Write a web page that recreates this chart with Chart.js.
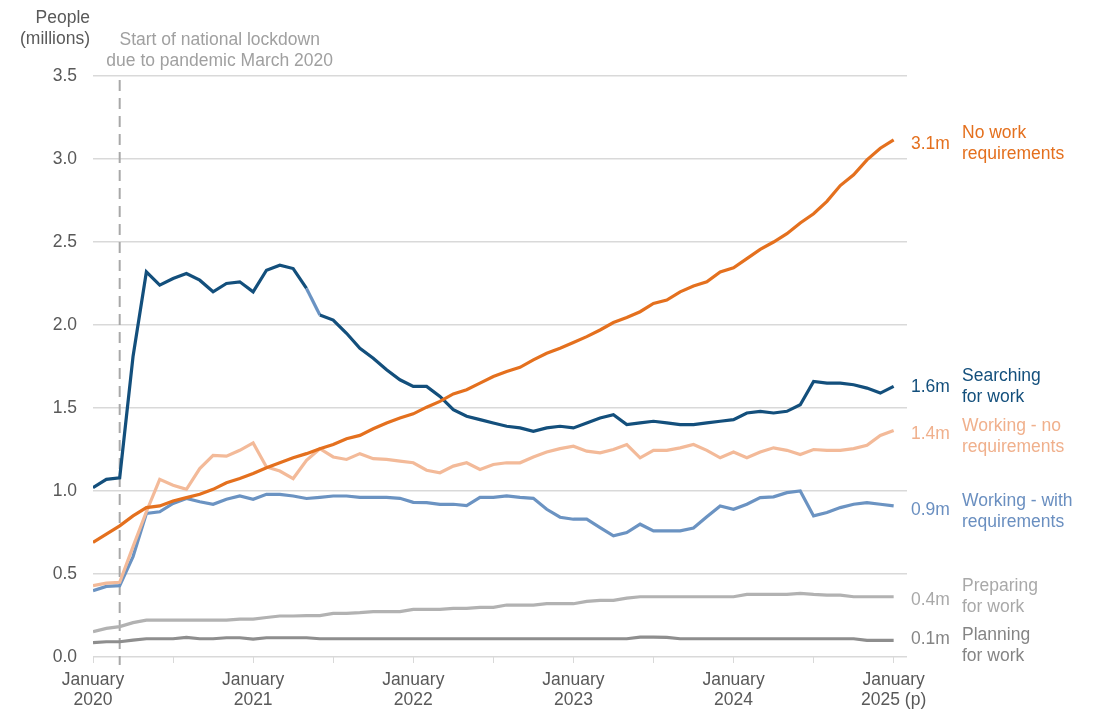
<!DOCTYPE html>
<html>
<head>
<meta charset="utf-8">
<script src="https://cdn.jsdelivr.net/npm/chart.js"></script>
<style>
    body { margin: 0; background: #fff; }
    #wrap { width: 1094px; height: 718px; position: relative; }
</style>
</head>
<body>
<div id="wrap"><canvas id="chart"></canvas></div>
<script>
// Monthly values, January 2020 (index 0) to January 2025 (index 60), millions of people
const searching = [
    1.02, 1.07, 1.08, 1.81, 2.32, 2.24, 2.28, 2.31, 2.27, 2.20, 2.25, 2.26,
    2.20, 2.33, 2.36, 2.34, 2.22, 2.06, 2.03, 1.95, 1.86, 1.80, 1.73, 1.67,
    1.63, 1.63, 1.57, 1.49, 1.45, 1.43, 1.41, 1.39, 1.38, 1.36, 1.38, 1.39,
    1.38, 1.41, 1.44, 1.46, 1.40, 1.41, 1.42, 1.41, 1.40, 1.40, 1.41, 1.42,
    1.43, 1.47, 1.48, 1.47, 1.48, 1.52, 1.66, 1.65, 1.65, 1.64, 1.62, 1.59,
    1.63
];
const noWorkReq = [
    0.69, 0.74, 0.79, 0.85, 0.90, 0.91, 0.94, 0.96, 0.98, 1.01, 1.05, 1.075,
    1.105, 1.14, 1.17, 1.20, 1.225, 1.255, 1.28, 1.315, 1.335, 1.375, 1.41, 1.44,
    1.465, 1.505, 1.54, 1.585, 1.61, 1.65, 1.69, 1.72, 1.745, 1.79, 1.83, 1.86,
    1.895, 1.93, 1.97, 2.015, 2.045, 2.08, 2.13, 2.15, 2.20, 2.235, 2.26, 2.32,
    2.345, 2.40, 2.455, 2.50, 2.55, 2.615, 2.67, 2.745, 2.84, 2.905, 2.995, 3.065,
    3.115
];
const workingNoReq = [
    0.43, 0.445, 0.45, 0.665, 0.875, 1.07, 1.035, 1.01, 1.135, 1.215, 1.21, 1.245,
    1.29, 1.145, 1.12, 1.075, 1.185, 1.255, 1.205, 1.19, 1.225, 1.195, 1.19, 1.18,
    1.17, 1.125, 1.11, 1.15, 1.17, 1.13, 1.16, 1.17, 1.17, 1.205, 1.235, 1.255,
    1.27, 1.24, 1.23, 1.25, 1.28, 1.20, 1.245, 1.245, 1.26, 1.28, 1.245, 1.20,
    1.235, 1.20, 1.235, 1.26, 1.245, 1.22, 1.25, 1.245, 1.245, 1.255, 1.275, 1.335,
    1.365
];
const workingWithReq = [
    0.40, 0.425, 0.43, 0.605, 0.865, 0.875, 0.925, 0.955, 0.935, 0.92, 0.95, 0.97,
    0.95, 0.98, 0.98, 0.97, 0.955, 0.962, 0.97, 0.97, 0.962, 0.962, 0.962, 0.956,
    0.932, 0.93, 0.92, 0.92, 0.912, 0.962, 0.962, 0.97, 0.962, 0.956, 0.89, 0.842,
    0.83, 0.83, 0.78, 0.73, 0.75, 0.80, 0.76, 0.76, 0.76, 0.777, 0.845, 0.91,
    0.89, 0.92, 0.96, 0.965, 0.99, 1.0, 0.85, 0.87, 0.90, 0.92, 0.93, 0.92,
    0.91
];
const preparing = [
    0.153, 0.172, 0.183, 0.207, 0.222, 0.222, 0.222, 0.222, 0.222, 0.222, 0.222, 0.228,
    0.228, 0.238, 0.247, 0.247, 0.249, 0.249, 0.263, 0.263, 0.267, 0.273, 0.273, 0.273,
    0.287, 0.287, 0.287, 0.293, 0.293, 0.299, 0.299, 0.313, 0.313, 0.313, 0.321, 0.321,
    0.321, 0.335, 0.341, 0.341, 0.355, 0.363, 0.363, 0.363, 0.363, 0.363, 0.363, 0.363,
    0.363, 0.377, 0.377, 0.377, 0.377, 0.383, 0.377, 0.373, 0.373, 0.363, 0.363, 0.363,
    0.363
];
const planning = [
    0.086, 0.092, 0.092, 0.102, 0.11, 0.11, 0.11, 0.118, 0.11, 0.11, 0.116, 0.116,
    0.108, 0.116, 0.116, 0.116, 0.116, 0.11, 0.11, 0.11, 0.11, 0.11, 0.11, 0.11,
    0.11, 0.11, 0.11, 0.11, 0.11, 0.11, 0.11, 0.11, 0.11, 0.11, 0.11, 0.11,
    0.11, 0.11, 0.11, 0.11, 0.11, 0.12, 0.12, 0.118, 0.11, 0.11, 0.11, 0.11,
    0.11, 0.11, 0.11, 0.11, 0.11, 0.11, 0.11, 0.11, 0.11, 0.11, 0.10, 0.10,
    0.10
];

// x tick labels, one per January (every 12 months)
const xTickLabels = [
    ['January', '2020'], ['January', '2021'], ['January', '2022'],
    ['January', '2023'], ['January', '2024'], ['January', '2025 (p)']
];
const yTicks = [0, 0.5, 1.0, 1.5, 2.0, 2.5, 3.0, 3.5];

// end labels: value text and two-line name
const endValues = ['3.1m', '1.6m', '1.4m', '0.9m', '0.4m', '0.1m'];
const endNames = [
    ['No work', 'requirements'],
    ['Searching', 'for work'],
    ['Working - no', 'requirements'],
    ['Working - with', 'requirements'],
    ['Preparing', 'for work'],
    ['Planning', 'for work']
];

const lockdownMonth = 2; // March 2020
const lockdownText = ['Start of national lockdown', 'due to pandemic March 2020'];
const yTitle = ['People', '(millions)'];

const FONT = '"Liberation Sans", Arial, sans-serif';
const FSIZE = 17.5;
const GRID = '#d9d9d9';
const TEXT = '#595959';

const colours = {
    noWork: '#e4701e',
    searching: '#134f7c',
    searchingLight: '#6a93c3',
    workingNo: '#f3ba99',
    workingWith: '#6b93c2',
    preparing: '#b2b2b2',
    planning: '#8e8e8e'
};
const labelColours = [colours.noWork, colours.searching, '#f0b08c', '#6a8fc0', '#a9a9a9', '#858585'];
// small vertical nudges for the label blocks (value, name) so they don't collide
const valueNudge = [4, 1, 4, 4, 3, -1];
const nameNudge = [4, 0, 6, 6, 0, 5];

function toPoints(arr) {
    return arr.map((v, i) => ({ x: i, y: v }));
}

function line(label, data, color, order) {
    return {
        label: label,
        data: toPoints(data),
        borderColor: color,
        borderWidth: 3.2,
        pointRadius: 0,
        tension: 0,
        fill: false,
        order: order
    };
}

const datasets = [
    line('No work requirements', noWorkReq, colours.noWork, 1),
    line('Searching for work', searching, colours.searching, 2),
    line('Working - no requirements', workingNoReq, colours.workingNo, 3),
    line('Working - with requirements', workingWithReq, colours.workingWith, 4),
    line('Preparing for work', preparing, colours.preparing, 5),
    line('Planning for work', planning, colours.planning, 6)
];
// lighter stretch on the searching line, mid 2021
datasets[1].segment = {
    borderColor: ctx => ctx.p0DataIndex === 16 ? colours.searchingLight : undefined
};

const overlay = {
    id: 'overlay',
    beforeDatasetsDraw(chart) {
        const { ctx, chartArea, scales } = chart;
        const x = scales.x.getPixelForValue(lockdownMonth);
        ctx.save();
        ctx.strokeStyle = '#a8a8a8';
        ctx.lineWidth = 2;
        ctx.setLineDash([11, 7]);
        ctx.beginPath();
        ctx.moveTo(x, chartArea.top + 4);
        ctx.lineTo(x, chartArea.bottom + 8);
        ctx.stroke();
        ctx.restore();
    },
    afterDraw(chart) {
        const { ctx, chartArea, scales } = chart;
        ctx.save();
        ctx.font = FSIZE + 'px ' + FONT;
        ctx.textBaseline = 'middle';

        // y axis title
        ctx.fillStyle = TEXT;
        ctx.textAlign = 'right';
        ctx.fillText(yTitle[0], 90, 18);
        ctx.fillText(yTitle[1], 90, 39);

        // lockdown annotation
        const lx = scales.x.getPixelForValue(lockdownMonth);
        ctx.fillStyle = '#a0a0a0';
        ctx.textAlign = 'center';
        ctx.fillText(lockdownText[0], lx + 100, 40);
        ctx.fillText(lockdownText[1], lx + 100, 61);

        // end-of-line labels
        ctx.textAlign = 'left';
        chart.data.datasets.forEach((ds, i) => {
            const last = ds.data[ds.data.length - 1];
            const y = scales.y.getPixelForValue(last.y);
            ctx.fillStyle = labelColours[i];
            ctx.fillText(endValues[i], chartArea.right + 4, y + valueNudge[i]);
            const ny = y + nameNudge[i];
            ctx.fillText(endNames[i][0], chartArea.right + 55, ny - 10.5);
            ctx.fillText(endNames[i][1], chartArea.right + 55, ny + 10.5);
        });
        ctx.restore();
    }
};

new Chart(document.getElementById('chart'), {
    type: 'line',
    data: { datasets: datasets },
    options: {
        responsive: true,
        maintainAspectRatio: false,
        animation: false,
        layout: { padding: { top: 76, right: 187, bottom: 0, left: 0 } },
        plugins: {
            legend: { display: false },
            tooltip: { enabled: false }
        },
        scales: {
            x: {
                type: 'linear',
                min: 0,
                max: 61,
                afterFit: s => { s.height = 61; },
                afterBuildTicks: s => {
                    const t = [];
                    for (let m = 0; m <= 60; m += 6) t.push({ value: m });
                    s.ticks = t;
                },
                ticks: {
                    autoSkip: false,
                    maxRotation: 0,
                    padding: 8,
                    color: TEXT,
                    font: { family: FONT, size: FSIZE, lineHeight: 1.1 },
                    callback: v => v % 12 === 0 ? xTickLabels[v / 12] : ''
                },
                grid: {
                    drawOnChartArea: false,
                    drawTicks: true,
                    tickLength: 6,
                    tickColor: GRID,
                    color: GRID
                },
                border: { display: false }
            },
            y: {
                min: 0,
                max: 3.5,
                afterFit: s => { s.width = 93; },
                afterBuildTicks: s => { s.ticks = yTicks.map(v => ({ value: v })); },
                ticks: {
                    padding: 16,
                    color: TEXT,
                    font: { family: FONT, size: FSIZE },
                    callback: v => v.toFixed(1)
                },
                grid: { color: GRID, lineWidth: 1.5, drawTicks: false },
                border: { display: false }
            }
        }
    },
    plugins: [overlay]
});
</script>
</body>
</html>
